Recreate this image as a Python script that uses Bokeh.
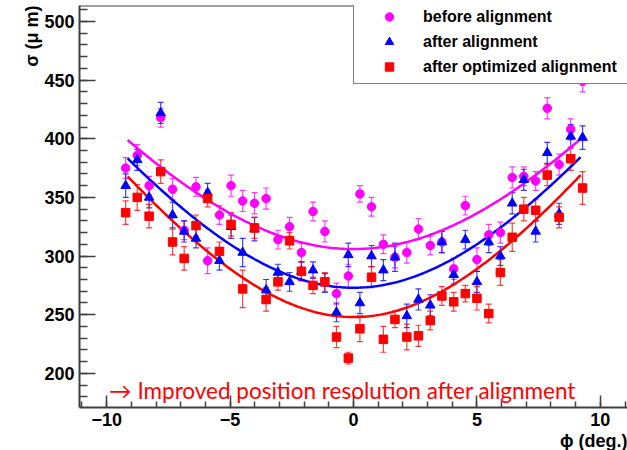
import numpy as np
from bokeh.plotting import figure
from bokeh.models import (ColumnDataSource, Whisker, TeeHead, Label, Span, Title,
                          SingleIntervalTicker, CustomJSTickFormatter, Range1d)
from bokeh.embed import file_html
from bokeh.resources import INLINE

# ---------------- data ----------------
phi = [-9.23, -8.76, -8.28, -7.81, -7.33, -6.86, -6.38, -5.91, -5.43, -4.96,
       -4.49, -4.01, -3.54, -3.06, -2.59, -2.11, -1.64, -1.16, -0.69, -0.21,
       0.26, 0.73, 1.21, 1.68, 2.16, 2.63, 3.11, 3.58, 4.06, 4.53,
       5.00, 5.48, 5.95, 6.43, 6.90, 7.38, 7.85, 8.33, 8.80, 9.28]

before = [375, 386, 360, 418, 357, 322, 359, 296, 335, 360,
          347, 345, 349, 314, 325, 303, 338, 321, 268, 283,
          353, 342, 310, 299, 303, 323, 309, 312, 289, 343,
          297, 318, 320, 367, 368, 364, 426, 378, 408, 449]
before_err = [9, 9, 8, 8, 9, 8, 8, 11, 8, 9, 9, 9, 9, 8, 8, 8, 8, 9, 9, 10,
              7, 8, 8, 9, 9, 9, 8, 9, 9, 8, 10, 9, 9, 9, 8, 8, 9, 9, 9, 9]

after = [360, 382, 350, 422, 335, 321, 315, 354, 296, 325,
         303, 323, 271, 286, 278, 287, 288, 277, 252, 301,
         260, 300, 288, 299, 249, 263, 258, 312, 284, 314,
         278, 312, 300, 345, 365, 321, 388, 336, 402, 401]
after_err = [10, 9, 9, 9, 11, 9, 8, 8, 8, 10, 12, 10, 9, 7, 8, 8, 7, 8, 8, 10,
             9, 9, 9, 12, 10, 9, 9, 9, 8, 8, 9, 9, 8, 9, 9, 9, 9, 9, 10, 10]

optimized = [337, 350, 334, 372, 312, 298, 326, 349, 304, 327,
             272, 324, 263, 278, 313, 287, 275, 278, 231, 213,
             238, 282, 229, 246, 231, 232, 245, 266, 261, 268,
             264, 251, 286, 316, 340, 339, 369, 333, 383, 358]
optimized_err = [10, 11, 10, 10, 11, 10, 9, 7, 8, 10, 16, 9, 10, 7, 7, 8, 7, 8, 9, 5,
                 11, 9, 11, 7, 11, 9, 8, 8, 8, 7, 10, 8, 11, 12, 10, 9, 9, 9, 10, 14]

# fit: sigma(phi) = sqrt(s0^2 + (b*phi)^2)
fit_s0 = {"before": 306.0, "after": 273.0, "optimized": 248.0}
fit_b = {"before": 27.97, "after": 29.4, "optimized": 29.7}
fit_range = (-9.15, 9.2)

labels = {"before": "before alignment", "after": "after alignment",
          "optimized": "after optimized alignment"}
colors = {"before": "#FF00FF", "after": "#0000FF", "optimized": "#FF0000"}
markers = {"before": "circle", "after": "triangle", "optimized": "square"}
msizes = {"before": 8.5, "after": 9.5, "optimized": 8.5}
series = {"before": (before, before_err), "after": (after, after_err),
          "optimized": (optimized, optimized_err)}

X_MIN, X_MAX = -11.1, 11.1
Y_MIN, Y_MAX = 170.9, 513.6

# ---------------- figure ----------------
p = figure(width=627, height=450, output_backend="svg", toolbar_location=None,
           x_range=Range1d(X_MIN, X_MAX), y_range=Range1d(Y_MIN, Y_MAX),
           min_border_left=79, min_border_right=0, min_border_top=5,
           min_border_bottom=42)
p.outline_line_color = None
p.grid.visible = False
p.background_fill_color = "white"
p.border_fill_color = "white"

axis_col = "#404040"
for ax in (p.xaxis[0], p.yaxis[0]):
    ax.axis_line_color = axis_col
    ax.axis_line_width = 2
    ax.major_tick_line_color = axis_col
    ax.minor_tick_line_color = axis_col
    ax.major_tick_line_width = 1.5
    ax.minor_tick_line_width = 1.5
    ax.major_tick_out = 0
    ax.minor_tick_out = 0
    ax.major_label_text_font = "Liberation Sans"
    ax.major_label_text_font_style = "bold"
    ax.major_label_text_font_size = "18px"
    ax.major_label_text_color = "black"
    ax.major_label_standoff = 5

p.xaxis.ticker = SingleIntervalTicker(interval=5, num_minor_ticks=5)
p.yaxis.ticker = SingleIntervalTicker(interval=50, num_minor_ticks=5)
p.xaxis.major_tick_in = 12
p.xaxis.minor_tick_in = 6
p.yaxis.major_tick_in = 16
p.yaxis.minor_tick_in = 8
p.xaxis.formatter = CustomJSTickFormatter(
    code="return tick < 0 ? '\u2212' + Math.abs(tick) : tick.toString();")

# top frame line
p.add_layout(Span(location=Y_MAX, dimension="width", line_color=axis_col,
                  line_width=2))

# fit curves
for key in ("before", "after", "optimized"):
    xs = np.linspace(fit_range[0], fit_range[1], 200)
    ys = np.sqrt(fit_s0[key] ** 2 + (fit_b[key] * xs) ** 2)
    p.line(xs, ys, line_color=colors[key], line_width=2.5)

# data points with error bars
for key in ("before", "after", "optimized"):
    vals, errs = series[key]
    src = ColumnDataSource(dict(
        x=phi, y=vals,
        upper=[v + e for v, e in zip(vals, errs)],
        lower=[v - e for v, e in zip(vals, errs)]))
    w = Whisker(source=src, base="x", upper="upper", lower="lower",
                line_color=colors[key], line_alpha=0.75, line_width=1.2,
                upper_head=TeeHead(size=6, line_color=colors[key], line_alpha=0.75, line_width=1.2),
                lower_head=TeeHead(size=6, line_color=colors[key], line_alpha=0.75, line_width=1.2))
    p.add_layout(w)
    p.scatter("x", "y", source=src, marker=markers[key], size=msizes[key],
              fill_color=colors[key], line_color=colors[key],
              legend_label=labels[key])

# legend
lg = p.legend[0]
lg.location = (274, 323)
lg.border_line_color = "black"
lg.border_line_width = 1
lg.background_fill_color = "white"
lg.background_fill_alpha = 1.0
lg.label_text_font = "Liberation Sans"
lg.label_text_font_style = "bold"
lg.label_text_font_size = "16px"
lg.label_text_color = "black"
lg.padding = 6
lg.spacing = 4
lg.margin = 0
lg.glyph_width = 58
lg.glyph_height = 21
lg.label_height = 21
lg.label_width = 230
lg.label_standoff = 5

# axis titles, aligned to the axis ends as in the original
ytitle = Title(text="σ (μ m)", align="right", text_font="Liberation Sans",
               text_font_style="bold", text_font_size="18px", text_color="black",
               standoff=0, offset=0)
p.add_layout(ytitle, "left")
xtitle = Title(text="ϕ (deg.)", align="right", text_font="Liberation Sans",
               text_font_style="bold", text_font_size="18px", text_color="black",
               standoff=0, offset=0)
p.add_layout(xtitle, "below")

# annotation
p.add_layout(Label(x=-9.9, y=185.5, text="\u2192 Improved position resolution after alignment",
                   text_align="left", text_baseline="alphabetic",
                   text_font="Lato", text_font_size="22.5px", text_color="#FF0000"))

open("out.html", "w").write(file_html(p, INLINE))
